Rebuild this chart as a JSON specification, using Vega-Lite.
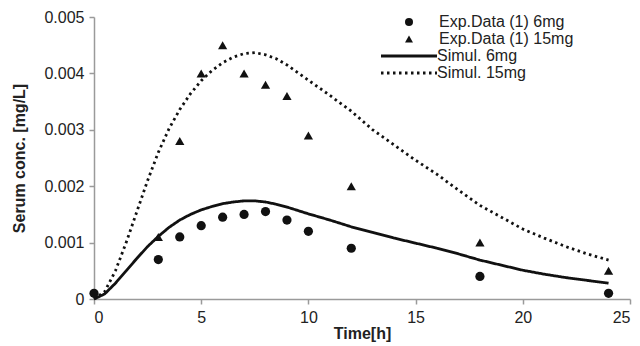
{
  "$schema": "https://vega.github.io/schema/vega-lite/v6.json",
  "width": 536,
  "height": 282,
  "autosize": "none",
  "padding": {"left": 94, "top": 17, "right": 10, "bottom": 47},
  "background": "white",
  "config": {
    "font": "Liberation Sans",
    "view": {"stroke": null},
    "axis": {
      "grid": false,
      "domainColor": "#9a9a9a",
      "tickColor": "#9a9a9a",
      "domainWidth": 1.5,
      "tickWidth": 1.5,
      "tickSize": 5,
      "labelColor": "#222",
      "titleColor": "#222",
      "labelFontSize": 16,
      "titleFontSize": 16,
      "titleFontWeight": "bold",
      "labelPadding": 5
    }
  },
  "datasets": {
    "exp": [
      {"t": 0, "v": 0.0001, "series": "Exp.Data (1) 6mg"},
      {"t": 3, "v": 0.0007, "series": "Exp.Data (1) 6mg"},
      {"t": 4, "v": 0.0011, "series": "Exp.Data (1) 6mg"},
      {"t": 5, "v": 0.0013, "series": "Exp.Data (1) 6mg"},
      {"t": 6, "v": 0.00145, "series": "Exp.Data (1) 6mg"},
      {"t": 7, "v": 0.0015, "series": "Exp.Data (1) 6mg"},
      {"t": 8, "v": 0.00155, "series": "Exp.Data (1) 6mg"},
      {"t": 9, "v": 0.0014, "series": "Exp.Data (1) 6mg"},
      {"t": 10, "v": 0.0012, "series": "Exp.Data (1) 6mg"},
      {"t": 12, "v": 0.0009, "series": "Exp.Data (1) 6mg"},
      {"t": 18, "v": 0.0004, "series": "Exp.Data (1) 6mg"},
      {"t": 24, "v": 0.0001, "series": "Exp.Data (1) 6mg"},
      {"t": 3, "v": 0.0011, "series": "Exp.Data (1) 15mg"},
      {"t": 4, "v": 0.0028, "series": "Exp.Data (1) 15mg"},
      {"t": 5, "v": 0.004, "series": "Exp.Data (1) 15mg"},
      {"t": 6, "v": 0.0045, "series": "Exp.Data (1) 15mg"},
      {"t": 7, "v": 0.004, "series": "Exp.Data (1) 15mg"},
      {"t": 8, "v": 0.0038, "series": "Exp.Data (1) 15mg"},
      {"t": 9, "v": 0.0036, "series": "Exp.Data (1) 15mg"},
      {"t": 10, "v": 0.0029, "series": "Exp.Data (1) 15mg"},
      {"t": 12, "v": 0.002, "series": "Exp.Data (1) 15mg"},
      {"t": 18, "v": 0.001, "series": "Exp.Data (1) 15mg"},
      {"t": 24, "v": 0.0005, "series": "Exp.Data (1) 15mg"}
    ],
    "sim": [
      {"t": 0, "v": 0, "sim": "Simul. 6mg"}, {"t": 0.5, "v": 0.00009, "sim": "Simul. 6mg"}, {"t": 1, "v": 0.00028, "sim": "Simul. 6mg"}, {"t": 1.5, "v": 0.0005, "sim": "Simul. 6mg"},
      {"t": 2, "v": 0.00072, "sim": "Simul. 6mg"}, {"t": 2.5, "v": 0.00093, "sim": "Simul. 6mg"}, {"t": 3, "v": 0.00111, "sim": "Simul. 6mg"}, {"t": 3.5, "v": 0.00127, "sim": "Simul. 6mg"},
      {"t": 4, "v": 0.0014, "sim": "Simul. 6mg"}, {"t": 4.5, "v": 0.0015, "sim": "Simul. 6mg"}, {"t": 5, "v": 0.00158, "sim": "Simul. 6mg"}, {"t": 5.5, "v": 0.00164, "sim": "Simul. 6mg"},
      {"t": 6, "v": 0.00169, "sim": "Simul. 6mg"}, {"t": 6.5, "v": 0.00172, "sim": "Simul. 6mg"}, {"t": 7, "v": 0.00174, "sim": "Simul. 6mg"}, {"t": 7.5, "v": 0.00174, "sim": "Simul. 6mg"},
      {"t": 8, "v": 0.00172, "sim": "Simul. 6mg"}, {"t": 8.5, "v": 0.00168, "sim": "Simul. 6mg"}, {"t": 9, "v": 0.00163, "sim": "Simul. 6mg"}, {"t": 10, "v": 0.00151, "sim": "Simul. 6mg"},
      {"t": 11, "v": 0.0014, "sim": "Simul. 6mg"}, {"t": 12, "v": 0.00128, "sim": "Simul. 6mg"}, {"t": 13, "v": 0.00118, "sim": "Simul. 6mg"}, {"t": 14, "v": 0.00108, "sim": "Simul. 6mg"},
      {"t": 15, "v": 0.00099, "sim": "Simul. 6mg"}, {"t": 16, "v": 0.0009, "sim": "Simul. 6mg"}, {"t": 17, "v": 0.0008, "sim": "Simul. 6mg"}, {"t": 18, "v": 0.00069, "sim": "Simul. 6mg"},
      {"t": 19, "v": 0.0006, "sim": "Simul. 6mg"}, {"t": 20, "v": 0.00051, "sim": "Simul. 6mg"}, {"t": 21, "v": 0.00044, "sim": "Simul. 6mg"}, {"t": 22, "v": 0.00038, "sim": "Simul. 6mg"},
      {"t": 23, "v": 0.00033, "sim": "Simul. 6mg"}, {"t": 24, "v": 0.00028, "sim": "Simul. 6mg"},
      {"t": 0, "v": 0, "sim": "Simul. 15mg"}, {"t": 0.5, "v": 0.00013, "sim": "Simul. 15mg"}, {"t": 1, "v": 0.0005, "sim": "Simul. 15mg"}, {"t": 1.5, "v": 0.001, "sim": "Simul. 15mg"},
      {"t": 2, "v": 0.00155, "sim": "Simul. 15mg"}, {"t": 2.5, "v": 0.0021, "sim": "Simul. 15mg"}, {"t": 3, "v": 0.0026, "sim": "Simul. 15mg"}, {"t": 3.5, "v": 0.00302, "sim": "Simul. 15mg"},
      {"t": 4, "v": 0.00336, "sim": "Simul. 15mg"}, {"t": 4.5, "v": 0.00364, "sim": "Simul. 15mg"}, {"t": 5, "v": 0.00387, "sim": "Simul. 15mg"}, {"t": 5.5, "v": 0.00405, "sim": "Simul. 15mg"},
      {"t": 6, "v": 0.00419, "sim": "Simul. 15mg"}, {"t": 6.5, "v": 0.00429, "sim": "Simul. 15mg"}, {"t": 7, "v": 0.00435, "sim": "Simul. 15mg"}, {"t": 7.5, "v": 0.00437, "sim": "Simul. 15mg"},
      {"t": 8, "v": 0.00433, "sim": "Simul. 15mg"}, {"t": 8.5, "v": 0.00426, "sim": "Simul. 15mg"}, {"t": 9, "v": 0.00415, "sim": "Simul. 15mg"}, {"t": 10, "v": 0.00388, "sim": "Simul. 15mg"},
      {"t": 11, "v": 0.00361, "sim": "Simul. 15mg"}, {"t": 12, "v": 0.00333, "sim": "Simul. 15mg"}, {"t": 13, "v": 0.003, "sim": "Simul. 15mg"}, {"t": 14, "v": 0.00273, "sim": "Simul. 15mg"},
      {"t": 15, "v": 0.00246, "sim": "Simul. 15mg"}, {"t": 16, "v": 0.00221, "sim": "Simul. 15mg"}, {"t": 17, "v": 0.00193, "sim": "Simul. 15mg"}, {"t": 18, "v": 0.00166, "sim": "Simul. 15mg"},
      {"t": 19, "v": 0.00145, "sim": "Simul. 15mg"}, {"t": 20, "v": 0.00124, "sim": "Simul. 15mg"}, {"t": 21, "v": 0.00108, "sim": "Simul. 15mg"}, {"t": 22, "v": 0.00093, "sim": "Simul. 15mg"},
      {"t": 23, "v": 0.0008, "sim": "Simul. 15mg"}, {"t": 24, "v": 0.00069, "sim": "Simul. 15mg"}
    ]
  },
  "encoding": {
    "x": {
      "field": "t", "type": "quantitative",
      "scale": {"domain": [0, 25], "nice": false},
      "axis": {"values": [0, 5, 10, 15, 20, 25], "title": "Time[h]", "titlePadding": 0}
    },
    "y": {
      "field": "v", "type": "quantitative",
      "scale": {"domain": [0, 0.005], "nice": false},
      "axis": {
        "values": [0, 0.001, 0.002, 0.003, 0.004, 0.005],
        "labelExpr": "datum.value === 0 ? '0' : format(datum.value, '.3f')",
        "title": "Serum conc. [mg/L]",
        "titlePadding": 16
      }
    }
  },
  "layer": [
    {
      "data": {"name": "sim"},
      "mark": {"type": "line", "color": "#111", "strokeWidth": 2.8},
      "encoding": {
        "strokeDash": {
          "field": "sim", "type": "nominal",
          "scale": {"domain": ["Simul. 6mg", "Simul. 15mg"], "range": [[1, 0], [2.5, 3.5]]},
          "legend": {
            "title": null,
            "orient": "none",
            "legendX": 307,
            "legendY": 31,
            "padding": 0,
            "rowPadding": 1,
            "symbolType": "M -7 0 L 7 0",
            "symbolSize": 64,
            "symbolStrokeWidth": 2.8,
            "symbolStrokeColor": "#111",
            "labelOffset": 20,
            "labelFontSize": 16,
            "labelColor": "#222",
            "labelLimit": 300
          }
        }
      }
    },
    {
      "data": {"name": "exp"},
      "mark": {"type": "point", "filled": true, "size": 85, "color": "#111", "opacity": 1},
      "encoding": {
        "shape": {
          "field": "series", "type": "nominal",
          "scale": {
            "domain": ["Exp.Data (1) 6mg", "Exp.Data (1) 15mg"],
            "range": ["circle", "triangle-up"]
          },
          "legend": {
            "title": null,
            "orient": "none",
            "legendX": 307,
            "legendY": -3,
            "padding": 0,
            "rowPadding": 1,
            "symbolSize": 64,
            "labelOffset": 22,
            "labelFontSize": 16,
            "labelColor": "#222",
            "labelLimit": 300
          }
        }
      }
    }
  ]
}
